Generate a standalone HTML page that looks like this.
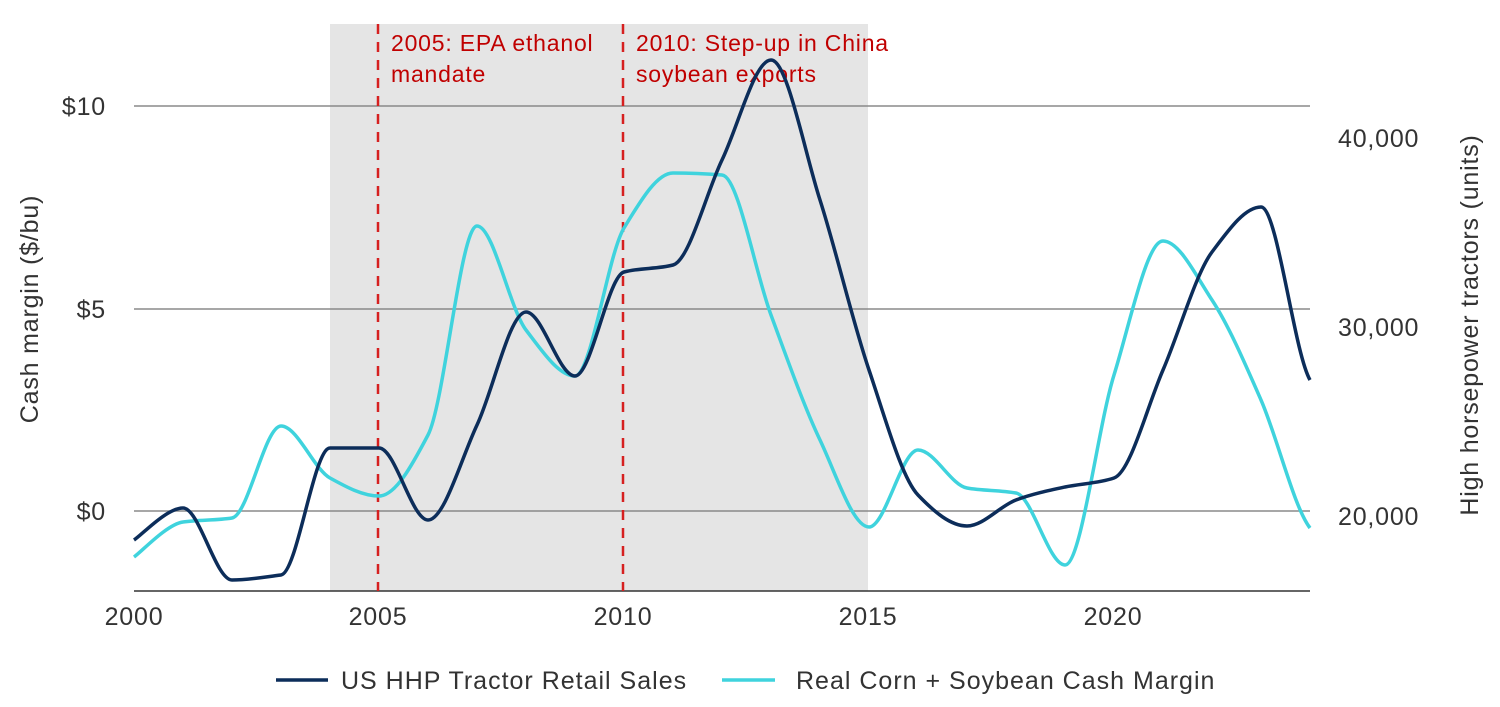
<!DOCTYPE html>
<html><head><meta charset="utf-8"><style>
html,body{margin:0;padding:0;background:#fff;}
svg{display:block;font-family:"Liberation Sans",sans-serif;}
</style></head><body>
<svg width="1500" height="707" viewBox="0 0 1500 707">
<rect x="330" y="24" width="538" height="567" fill="#e5e5e5"/>
<g stroke="#8a8a8a" stroke-width="1.5">
<line x1="134" y1="106" x2="1310" y2="106"/>
<line x1="134" y1="309" x2="1310" y2="309"/>
<line x1="134" y1="511" x2="1310" y2="511"/>
</g>
<line x1="134" y1="591" x2="1310" y2="591" stroke="#333" stroke-width="1.5"/>
<g stroke="#d62020" stroke-width="2.5" stroke-dasharray="10,8">
<line x1="378" y1="24" x2="378" y2="591"/>
<line x1="623" y1="24" x2="623" y2="591"/>
</g>
<g fill="#c00000" font-size="23" letter-spacing="0.8">
<text x="391" y="51">2005: EPA ethanol</text>
<text x="391" y="82">mandate</text>
<text x="636" y="51">2010: Step-up in China</text>
<text x="636" y="82">soybean exports</text>
</g>
<path fill="none" stroke="#3fd3dd" stroke-width="3.5" d="M134,557 C142.2,551.2 166.7,524.4 183,522 S215.7,520.6 232,518 S264.7,426 281,426 S313.7,469 330,478 S362.7,496 379,496 S411.7,466 428,435 S460.7,226 477,226 S509.7,308.7 526,330 S558.7,376 575,376 S607.7,254.7 624,228 S656.7,173 673,173 S705.7,173.7 722,175 S754.7,271 771,315 S803.7,405.7 820,440 S852.7,527 869,527 S901.7,450 918,450 S950.7,485 967,488 S999.7,489.9 1016,493 S1048.7,565 1065,565 S1097.7,427.3 1114,375 S1146.7,241 1163,241 S1195.7,275.3 1212,300 S1244.7,362.7 1261,400 S1293.7,506.7 1310,528"/>
<path fill="none" stroke="#0c2d5a" stroke-width="3.5" d="M134,540 C142.2,534.7 166.7,508 183,508 S215.7,580 232,580 S264.7,577 281,575 S313.7,448 330,448 S362.7,448 379,448 S411.7,520 428,520 S460.7,459.7 477,425 S509.7,312 526,312 S558.7,376 575,376 S607.7,276.4 624,272 S656.7,269.3 673,265 S705.7,194 722,160 S754.7,60 771,60 S803.7,149 820,200 S852.7,322 869,370 S901.7,478 918,495 S950.7,526 967,526 S999.7,506 1016,500 S1048.7,490.5 1065,487 S1097.7,483.5 1114,478 S1146.7,407.7 1163,370 S1195.7,273.7 1212,252 S1244.7,207 1261,207 S1293.7,351.2 1310,380"/>
<g fill="#333" font-size="25" letter-spacing="0.8">
<text x="106" y="115" text-anchor="end">$10</text>
<text x="106" y="318" text-anchor="end">$5</text>
<text x="106" y="520" text-anchor="end">$0</text>
<text x="1338" y="147">40,000</text>
<text x="1338" y="336">30,000</text>
<text x="1338" y="525">20,000</text>
<text x="134" y="625" text-anchor="middle">2000</text>
<text x="378" y="625" text-anchor="middle">2005</text>
<text x="623" y="625" text-anchor="middle">2010</text>
<text x="868" y="625" text-anchor="middle">2015</text>
<text x="1113" y="625" text-anchor="middle">2020</text>
<text transform="translate(38,309) rotate(-90)" text-anchor="middle">Cash margin ($/bu)</text>
<text transform="translate(1478,325) rotate(-90)" text-anchor="middle">High horsepower tractors (units)</text>
<text x="341" y="689" letter-spacing="1">US HHP Tractor Retail Sales</text>
<text x="796" y="689" letter-spacing="1">Real Corn + Soybean Cash Margin</text>
</g>
<line x1="276" y1="680" x2="328" y2="680" stroke="#0c2d5a" stroke-width="3.5"/>
<line x1="722" y1="680" x2="775" y2="680" stroke="#3fd3dd" stroke-width="3.5"/>
</svg>
</body></html>
